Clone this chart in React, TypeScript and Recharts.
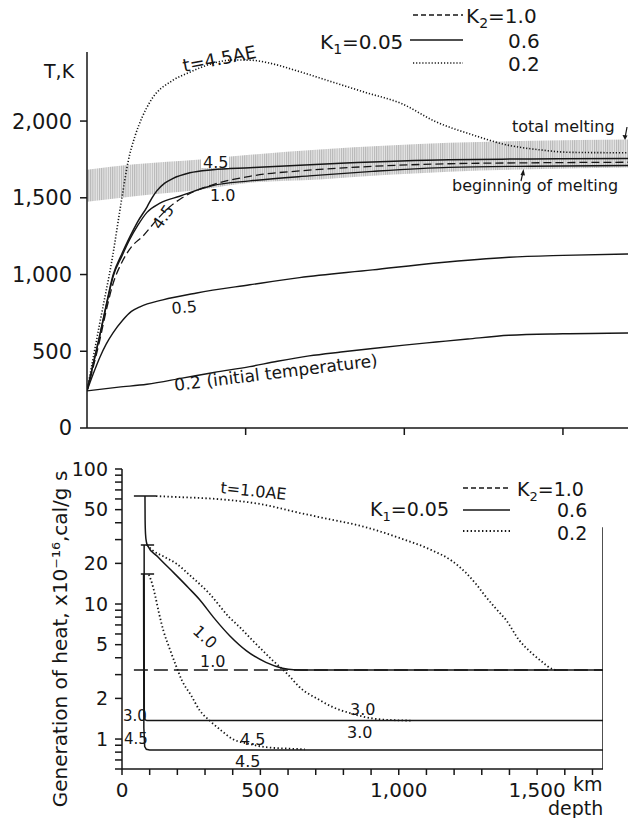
import React from 'react';
import { ComposedChart, Line, Area, XAxis, YAxis } from 'recharts';

const FONT = '"DejaVu Sans", "Liberation Sans", sans-serif';
const INK = '#161616';

type P = { x: number; y: number | null };
const pts = (a: (number | null)[][]): P[] => a.map(([x, y]) => ({ x: x as number, y }));

// ---------- Top panel: temperature (K) vs depth (km) ----------
const tempTicks = [0, 500, 1000, 1500, 2000];
const topDepthTicks = [500, 1000, 1500];

// melting band: [depth, beginning of melting, total melting]
const meltDepth = [0, 150, 356, 513, 733, 950, 1141, 1400, 1738];
const meltBegin = [1474, 1510, 1552, 1598, 1620, 1650, 1670, 1686, 1698];
const meltTotal = [1683, 1718, 1750, 1780, 1815, 1840, 1858, 1872, 1880];
const meltBand = meltDepth.map((x, i) => ({ x, lo: meltBegin[i], hi: meltTotal[i] }));

const tInitial02 = pts([[0, 242], [100, 266], [189, 285], [300, 325], [400, 362], [513, 400], [600, 435], [700, 470], [800, 495], [900, 518], [1000, 540], [1100, 560], [1200, 580], [1330, 604], [1500, 614], [1738, 620]]);
const t05 = pts([[0, 242], [20, 355], [41, 463], [60, 545], [82, 620], [113, 704], [140, 760], [167, 790], [239, 835], [346, 880], [513, 933], [670, 980], [900, 1030], [1100, 1075], [1330, 1113], [1500, 1125], [1738, 1135]]);
const t10solid = pts([[0, 242], [20, 420], [40, 600], [60, 790], [82, 985], [110, 1120], [135, 1230], [160, 1320], [189, 1405], [230, 1465], [292, 1510], [396, 1580], [513, 1610], [700, 1643], [900, 1672], [1141, 1698], [1400, 1706], [1738, 1711]]);
const t45solid = pts([[0, 242], [20, 420], [40, 600], [60, 795], [82, 995], [110, 1135], [135, 1245], [160, 1345], [189, 1440], [205, 1500], [220, 1545], [245, 1595], [270, 1625], [324, 1663], [396, 1683], [513, 1696], [800, 1725], [1141, 1748], [1400, 1753], [1738, 1757]]);
const t45dashed = pts([[0, 242], [20, 400], [40, 570], [60, 760], [82, 940], [110, 1080], [140, 1180], [176, 1250], [220, 1357], [260, 1440], [300, 1500], [396, 1585], [513, 1640], [700, 1680], [900, 1705], [1141, 1722], [1400, 1728], [1738, 1732]]);
const t45dotted = pts([[0, 242], [40, 680], [80, 1110], [110, 1500], [130, 1740], [151, 1900], [175, 2030], [200, 2130], [270, 2265], [324, 2318], [360, 2350], [400, 2378], [460, 2398], [520, 2396], [570, 2380], [670, 2322], [780, 2250], [880, 2185], [990, 2115], [1100, 1995], [1214, 1911], [1320, 1846], [1425, 1813], [1528, 1796], [1738, 1793]]);

// ---------- Bottom panel: heat generation vs depth ----------
const heatTicks = [0.6, 0.7, 0.8, 0.9, 1, 2, 3, 4, 5, 6, 7, 8, 9, 10, 20, 30, 40, 50, 60, 70, 80, 90, 100];
const heatLabels = [1, 2, 5, 10, 20, 50, 100];
const depthTicks = [0, 100, 200, 300, 400, 500, 600, 700, 800, 900, 1000, 1100, 1200, 1300, 1400, 1500, 1600, 1700];
const depthLabels: Record<number, string> = { 0: '0', 500: '500', 1000: '1,000', 1500: '1,500' };

const h10solid = pts([[83, 63], [83.5, 42], [85, 33], [88, 29], [92, 27.2], [130, 22.3], [190, 16.8], [240, 13.2], [280, 10.8], [330, 8.0], [390, 5.8], [450, 4.5], [520, 3.7], [580, 3.35], [620, 3.26], [680, 3.24], [1738, 3.24]]);
const h10dashed = pts([[43, 3.24], [1738, 3.24]]);
const h10dotted = pts([[123, 63], [200, 62], [340, 60], [500, 55], [640, 47.4], [713, 44], [882, 37], [1000, 31], [1120, 25], [1190, 21], [1243, 17], [1280, 14], [1315, 11.3], [1350, 9.3], [1388, 7.6], [1435, 5.4], [1482, 4.3], [1520, 3.7], [1554, 3.3], [1570, 3.24]]);
const h30solid = pts([[80, 27.4], [80.5, 1.5], [83, 1.39], [90, 1.37], [1738, 1.37]]);
const h30dotted = pts([[90, 27.4], [110, 25], [150, 22.5], [195, 20], [250, 16], [315, 12], [387, 8], [430, 6.6], [471, 5.4], [540, 3.9], [600, 3], [641, 2.43], [713, 1.95], [760, 1.73], [822, 1.56], [906, 1.42], [980, 1.38], [1050, 1.37]]);
const h45solid = pts([[78, 16.7], [79, 1.2], [82, 0.88], [88, 0.84], [100, 0.83], [1738, 0.83]]);
const h45dotted = pts([[97, 16.5], [105, 15], [120, 11.5], [134, 8.5], [150, 6.3], [170, 4.8], [195, 3.5], [217, 2.7], [250, 2.1], [279, 1.65], [320, 1.35], [360, 1.15], [400, 1.0], [460, 0.92], [521, 0.87], [600, 0.85], [660, 0.84]]);
const surfaceCaps = pts([[43, 63], [123, 63], [123, null], [68, 27.4], [116, 27.4], [116, null], [68, 16.7], [116, 16.7]]);
const rightEdge = pts([[1738, 0.6], [1738, 37]]);

const fmtThousands = (v: number) => String(v).replace(/\B(?=(\d{3})+(?!\d))/g, ',');

const axisStyle = { stroke: INK, strokeWidth: 1.5 };

export default function App() {
  return (
    <div style={{ position: 'absolute', left: 0, top: 0, width: 628, height: 818, background: '#fff', overflow: 'hidden', fontFamily: FONT }}>
      <div style={{ position: 'absolute', left: 0, top: 0 }}>
        <ComposedChart width={628} height={440} margin={{ top: 52, right: 0, bottom: 0, left: 0 }}>
          <defs>
            <pattern id="hatch" width="2.2" height="4" patternUnits="userSpaceOnUse">
              <rect width="2.2" height="4" fill="#d6d6d6" />
              <rect width="1" height="4" fill="#858585" />
            </pattern>
          </defs>
          <XAxis type="number" dataKey="x" domain={[0, 1705]} allowDataOverflow ticks={topDepthTicks} interval={0}
            height={12} tickSize={7} tickFormatter={() => ''} axisLine={axisStyle} tickLine={axisStyle} />
          <YAxis type="number" domain={[0, 2450]} allowDataOverflow ticks={tempTicks} interval={0} width={87}
            tickSize={7} tickMargin={8} tickFormatter={fmtThousands}
            tick={{ fontSize: 21, fill: INK, fontFamily: FONT }} axisLine={axisStyle} tickLine={axisStyle} />
          <Area data={meltBand} dataKey={(d: any) => [d.lo, d.hi]} type="monotone" fill="url(#hatch)" stroke="none" isAnimationActive={false} />
          <Line data={tInitial02} dataKey="y" type="monotone" stroke={INK} strokeWidth={1.4} dot={false} isAnimationActive={false} />
          <Line data={t05} dataKey="y" type="monotone" stroke={INK} strokeWidth={1.4} dot={false} isAnimationActive={false} />
          <Line data={t10solid} dataKey="y" type="monotone" stroke={INK} strokeWidth={1.4} dot={false} isAnimationActive={false} />
          <Line data={t45dashed} dataKey="y" type="monotone" stroke={INK} strokeWidth={1.3} strokeDasharray="8 4" dot={false} isAnimationActive={false} />
          <Line data={t45solid} dataKey="y" type="monotone" stroke={INK} strokeWidth={1.5} dot={false} isAnimationActive={false} />
          <Line data={t45dotted} dataKey="y" type="monotone" stroke={INK} strokeWidth={1.6} strokeDasharray="1.2 1.9" dot={false} isAnimationActive={false} />
        </ComposedChart>
      </div>

      <div style={{ position: 'absolute', left: 0, top: 440 }}>
        <ComposedChart width={628} height={378} margin={{ top: 29, right: 25, bottom: 0, left: 0 }}>
          <XAxis type="number" dataKey="x" domain={[0, 1738]} allowDataOverflow ticks={depthTicks} interval={0}
            height={49} tickSize={6} tickMargin={8} tickFormatter={(v: number) => depthLabels[v] ?? ''}
            tick={{ fontSize: 20, fill: INK, fontFamily: FONT }} axisLine={axisStyle} tickLine={axisStyle} />
          <YAxis type="number" scale="log" domain={[0.6, 100]} allowDataOverflow ticks={heatTicks} interval={0} width={122}
            tickSize={7} tickMargin={7} tickFormatter={(v: number) => (heatLabels.includes(v) ? String(v) : '')}
            tick={{ fontSize: 19, fill: INK, fontFamily: FONT }} axisLine={axisStyle} tickLine={axisStyle} />
          <Line data={rightEdge} dataKey="y" type="linear" stroke={INK} strokeWidth={1.5} dot={false} isAnimationActive={false} />
          <Line data={surfaceCaps} dataKey="y" type="linear" stroke={INK} strokeWidth={1.5} dot={false} connectNulls={false} isAnimationActive={false} />
          <Line data={h10dashed} dataKey="y" type="linear" stroke={INK} strokeWidth={1.5} strokeDasharray="14 6" dot={false} isAnimationActive={false} />
          <Line data={h10dotted} dataKey="y" type="monotone" stroke={INK} strokeWidth={1.8} strokeDasharray="1.4 2.4" dot={false} isAnimationActive={false} />
          <Line data={h30dotted} dataKey="y" type="monotone" stroke={INK} strokeWidth={1.8} strokeDasharray="1.4 2.4" dot={false} isAnimationActive={false} />
          <Line data={h45dotted} dataKey="y" type="monotone" stroke={INK} strokeWidth={1.8} strokeDasharray="1.4 2.4" dot={false} isAnimationActive={false} />
          <Line data={h10solid} dataKey="y" type="monotone" stroke={INK} strokeWidth={1.5} dot={false} isAnimationActive={false} />
          <Line data={h30solid} dataKey="y" type="linear" stroke={INK} strokeWidth={1.5} dot={false} isAnimationActive={false} />
          <Line data={h45solid} dataKey="y" type="linear" stroke={INK} strokeWidth={1.5} dot={false} isAnimationActive={false} />
        </ComposedChart>
      </div>

      <svg width={628} height={818} style={{ position: 'absolute', left: 0, top: 0, pointerEvents: 'none' }} fontFamily={FONT} fill={INK}>
        {/* top panel titles & legend */}
        <text x={44} y={78} fontSize={19}>T,K</text>
        <line x1={413} y1={15} x2={463} y2={15} stroke={INK} strokeWidth={1.4} strokeDasharray="5 3" />
        <text x={466} y={23} fontSize={20}>K<tspan fontSize={14} dy={5}>2</tspan><tspan dy={-5}>=1.0</tspan></text>
        <text x={320} y={49} fontSize={20}>K<tspan fontSize={14} dy={5}>1</tspan><tspan dy={-5}>=0.05</tspan></text>
        <line x1={410} y1={40} x2={463} y2={40} stroke={INK} strokeWidth={1.5} />
        <text x={508} y={48} fontSize={20}>0.6</text>
        <line x1={413} y1={63} x2={463} y2={63} stroke={INK} strokeWidth={1.6} strokeDasharray="1.2 1.9" />
        <text x={508} y={71} fontSize={20}>0.2</text>

        <text x={184} y={72} fontSize={18} transform="rotate(-11 184 72)">t=4.5AE</text>
        <rect x={201} y={153} width={28} height={15} fill="#fff" />
        <text x={203} y={168} fontSize={16}>4.5</text>
        <text x={210} y={201} fontSize={16}>1.0</text>
        <text x={163} y={217} fontSize={16} textAnchor="middle" dominantBaseline="central" transform="rotate(-55 163 217)">4.5</text>
        <text x={172} y={314} fontSize={16} transform="rotate(-5 172 314)">0.5</text>
        <text x={175} y={391} fontSize={17} transform="rotate(-7 175 391)">0.2 (initial temperature)</text>
        <text x={512} y={132} fontSize={16}>total melting</text>
        <line x1={627} y1={127} x2={625} y2={138} stroke={INK} strokeWidth={1.2} />
        <path d="M622.5 135 L625 140 L627.5 135.5 Z" fill={INK} />
        <text x={452} y={191} fontSize={16}>beginning of melting</text>
        <line x1={521} y1={181} x2={523} y2={172} stroke={INK} strokeWidth={1.2} />
        <path d="M520.5 175 L523.5 169 L525 175.5 Z" fill={INK} />

        {/* bottom panel titles & legend */}
        <text x={67} y={639} fontSize={20} textAnchor="middle" transform="rotate(-90 67 639)">Generation of heat, x10⁻¹⁶,cal/g s</text>
        <text x={573} y={791} fontSize={19}>km</text>
        <text x={548} y={815} fontSize={19}>depth</text>

        <line x1={463} y1={488} x2={510} y2={488} stroke={INK} strokeWidth={1.4} strokeDasharray="5 3" />
        <text x={517} y={496} fontSize={19}>K<tspan fontSize={13} dy={5}>2</tspan><tspan dy={-5}>=1.0</tspan></text>
        <text x={370} y={516} fontSize={19}>K<tspan fontSize={13} dy={5}>1</tspan><tspan dy={-5}>=0.05</tspan></text>
        <line x1={463} y1={510} x2={510} y2={510} stroke={INK} strokeWidth={1.5} />
        <text x={557} y={517} fontSize={19}>0.6</text>
        <line x1={463} y1={531} x2={510} y2={531} stroke={INK} strokeWidth={1.8} strokeDasharray="1.4 2.4" />
        <text x={557} y={540} fontSize={19}>0.2</text>

        <text x={220} y={493} fontSize={16} transform="rotate(6 220 493)">t=1.0AE</text>
        <text x={205} y={637} fontSize={16} textAnchor="middle" dominantBaseline="central" transform="rotate(42 205 637)">1.0</text>
        <text x={200} y={667} fontSize={16}>1.0</text>
        <text x={123} y={721} fontSize={15}>3.0</text>
        <text x={124} y={744} fontSize={15}>4.5</text>
        <text x={240} y={745} fontSize={16}>4.5</text>
        <text x={235} y={767} fontSize={16}>4.5</text>
        <text x={350} y={715} fontSize={16}>3.0</text>
        <text x={347} y={738} fontSize={16}>3.0</text>
      </svg>
    </div>
  );
}
